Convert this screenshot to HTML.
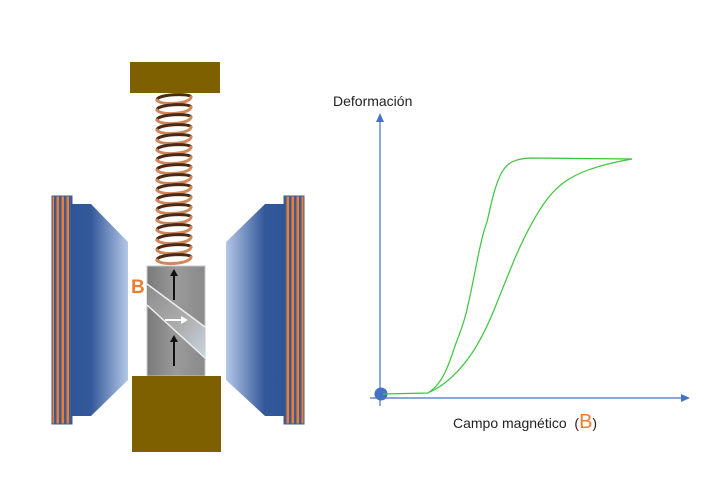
<!DOCTYPE html>
<html><head><meta charset="utf-8"><style>
html,body{margin:0;padding:0;background:#fff;}
svg{display:block;}
</style></head><body>
<svg width="720" height="498" viewBox="0 0 720 498" xmlns="http://www.w3.org/2000/svg">
<defs>
<linearGradient id="bl" x1="0" x2="1" y1="0" y2="0">
<stop offset="0" stop-color="#2f5597"/><stop offset="0.35" stop-color="#34599a"/><stop offset="1" stop-color="#b4c7e7"/>
</linearGradient>
<linearGradient id="br" x1="1" x2="0" y1="0" y2="0">
<stop offset="0" stop-color="#2f5597"/><stop offset="0.35" stop-color="#34599a"/><stop offset="1" stop-color="#b4c7e7"/>
</linearGradient>
<linearGradient id="gr" x1="0" x2="1" y1="0" y2="0">
<stop offset="0" stop-color="#7a7a7a"/><stop offset="0.5" stop-color="#9a9a9a"/><stop offset="1" stop-color="#8a8a8a"/>
</linearGradient>
<linearGradient id="band" x1="0" x2="1" y1="0" y2="1">
<stop offset="0" stop-color="#8c8c8c"/><stop offset="0.6" stop-color="#b0b0b0"/><stop offset="1" stop-color="#c8d4e0"/>
</linearGradient>
<pattern id="st" width="5" height="10" patternUnits="userSpaceOnUse">
<rect width="5" height="10" fill="#3c5c96"/><rect x="1.5" width="2.5" height="10" fill="#ed7d31"/>
</pattern>
</defs>

<rect x="130" y="62" width="90" height="31" fill="#7f6000"/>

<g fill="none" stroke-width="3" stroke-linecap="round">
<path d="M157,100 C157,94 191,93 191,97" stroke="#4a2a15"/><path d="M157,100 C160,106 191,104 191,97" stroke="#d08858"/>
<path d="M157,110 C157,104 191,103 191,107" stroke="#4a2a15"/><path d="M157,110 C160,116 191,114 191,107" stroke="#d08858"/>
<path d="M157,120 C157,114 191,113 191,117" stroke="#4a2a15"/><path d="M157,120 C160,126 191,124 191,117" stroke="#d08858"/>
<path d="M157,130 C157,124 191,123 191,127" stroke="#4a2a15"/><path d="M157,130 C160,136 191,134 191,127" stroke="#d08858"/>
<path d="M157,140 C157,134 191,133 191,137" stroke="#4a2a15"/><path d="M157,140 C160,146 191,144 191,137" stroke="#d08858"/>
<path d="M157,150 C157,144 191,143 191,147" stroke="#4a2a15"/><path d="M157,150 C160,156 191,154 191,147" stroke="#d08858"/>
<path d="M157,160 C157,154 191,153 191,157" stroke="#4a2a15"/><path d="M157,160 C160,166 191,164 191,157" stroke="#d08858"/>
<path d="M157,170 C157,164 191,163 191,167" stroke="#4a2a15"/><path d="M157,170 C160,176 191,174 191,167" stroke="#d08858"/>
<path d="M157,180 C157,174 191,173 191,177" stroke="#4a2a15"/><path d="M157,180 C160,186 191,184 191,177" stroke="#d08858"/>
<path d="M157,190 C157,184 191,183 191,187" stroke="#4a2a15"/><path d="M157,190 C160,196 191,194 191,187" stroke="#d08858"/>
<path d="M157,200 C157,194 191,193 191,197" stroke="#4a2a15"/><path d="M157,200 C160,206 191,204 191,197" stroke="#d08858"/>
<path d="M157,210 C157,204 191,203 191,207" stroke="#4a2a15"/><path d="M157,210 C160,216 191,214 191,207" stroke="#d08858"/>
<path d="M157,220 C157,214 191,213 191,217" stroke="#4a2a15"/><path d="M157,220 C160,226 191,224 191,217" stroke="#d08858"/>
<path d="M157,230 C157,224 191,223 191,227" stroke="#4a2a15"/><path d="M157,230 C160,236 191,234 191,227" stroke="#d08858"/>
<path d="M157,240 C157,234 191,233 191,237" stroke="#4a2a15"/><path d="M157,240 C160,246 191,244 191,237" stroke="#d08858"/>
<path d="M157,250 C157,244 191,243 191,247" stroke="#4a2a15"/><path d="M157,250 C160,256 191,254 191,247" stroke="#d08858"/>
<path d="M157,260 C157,254 191,253 191,257" stroke="#4a2a15"/><path d="M157,260 C160,266 191,264 191,257" stroke="#d08858"/>
</g>

<rect x="52" y="196" width="20" height="228" fill="url(#st)" stroke="#3c5c96" stroke-width="1"/>
<polygon points="71,204 91,204 128,242 128,380 91,416 71,416" fill="url(#bl)"/>
<rect x="284" y="196" width="20" height="228" fill="url(#st)" stroke="#3c5c96" stroke-width="1"/>
<polygon points="285,204 265,204 226,242 226,380 265,416 285,416" fill="url(#br)"/>

<rect x="147" y="266" width="58" height="110" fill="url(#gr)" stroke="#c8c8c8" stroke-width="1"/>
<polygon points="147,284 205,327 205,358 147,305" fill="url(#band)"/>
<line x1="147" y1="284" x2="205" y2="327" stroke="#eee" stroke-width="1.5"/>
<line x1="147" y1="305" x2="205" y2="358" stroke="#eee" stroke-width="1.5"/>
<g stroke="#111" stroke-width="2" fill="#111">
<line x1="174" y1="300" x2="174" y2="275"/><polygon points="170,276 178,276 174,269" stroke="none"/>
<line x1="174" y1="366" x2="174" y2="341"/><polygon points="170,342 178,342 174,335" stroke="none"/>
</g>
<line x1="165" y1="320" x2="182" y2="320" stroke="#fff" stroke-width="2"/><polygon points="181,316 181,324 188,320" fill="#fff"/>
<text x="131" y="293" font-family="Liberation Sans, sans-serif" font-size="19" font-weight="bold" fill="#ed7d31">B</text>

<rect x="132" y="376" width="89" height="76" fill="#7f6000"/>

<g stroke="#4472c4" stroke-width="1.2" fill="#4472c4">
<line x1="380" y1="406" x2="380" y2="120"/><polygon points="376,122 384,122 380,113" stroke="none"/>
<line x1="370" y1="398" x2="682" y2="398"/><polygon points="681,394 681,402 690,398" stroke="none"/>
</g>
<circle cx="381" cy="394" r="6.5" fill="#4472c4"/>

<g fill="none" stroke="#3cc43c" stroke-width="1.2">
<path d="M383,394 L428,393 C436,388 442,380 447,368 C452,356 455,345 458,338 C463,325 466,315 468,305 C475,275 480,240 487,222 C492,200 495,185 502,172 C508,162 515,159 530,158 L632,159"/>
<path d="M430,392 C445,385 458,373 470,356 C480,342 487,327 494,310 C502,290 508,275 515,258 C525,235 535,215 548,198 C560,183 572,176 588,170 C605,164 620,161 632,159"/>
</g>

<text x="333" y="106" font-family="Liberation Sans, sans-serif" font-size="14" fill="#222">Deformación</text>
<text x="453" y="428" font-family="Liberation Sans, sans-serif" font-size="14" fill="#222">Campo magnético&#160; (<tspan fill="#ed7d31" font-size="20">B</tspan>)</text>
</svg>
</body></html>
